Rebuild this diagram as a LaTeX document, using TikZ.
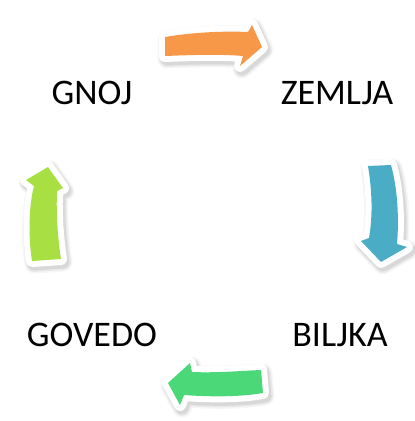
\documentclass[tikz,border=0pt]{standalone}
\usepackage{fontspec}
\setmainfont{Carlito}
\definecolor{arrOrange}{RGB}{247,152,72}
\definecolor{arrBlue}{RGB}{75,172,198}
\definecolor{arrGreen}{RGB}{74,216,120}
\definecolor{arrLime}{RGB}{168,224,68}
\newcommand{\cyclearrow}[2]{%
  \begin{scope}[shift={(2,3)}]
    \path[draw=black, fill=black, line width=19, line join=round, opacity=0.035] #2;
    \path[draw=black, fill=black, line width=16, line join=round, opacity=0.05] #2;
    \path[draw=black, fill=black, line width=13, line join=round, opacity=0.07] #2;
  \end{scope}
  \path[draw=white, line width=12, line join=round] #2;
  \path[fill=#1] #2;
}
\tikzset{lbl/.style={font=\fontsize{36}{40}\selectfont, text=black, inner sep=0pt}}
\begin{document}
\begin{tikzpicture}[x=1pt,y=-1pt]
\useasboundingbox (0,0) rectangle (415,421);
\fill[white] (0,0) rectangle (415,421);

% orange arrow (top, pointing right)
\cyclearrow{arrOrange}{(165,37) .. controls (195,32) and (225,31) .. (248,32) -- (252,25) -- (262,47) -- (240,66) -- (243,56) .. controls (220,54) and (190,55) .. (165,56) -- cycle}
% blue arrow (right, pointing down)
\cyclearrow{arrBlue}{(368,166) -- (391,165) .. controls (398,190) and (399,220) .. (397,244) -- (407,247) -- (381,262) -- (361,241) -- (369,238) .. controls (373,215) and (372,190) .. (368,166) -- cycle}
% green arrow (bottom, pointing left)
\cyclearrow{arrGreen}{(261,370) -- (263,393) .. controls (240,397) and (210,397) .. (184,395) -- (180,405) -- (168,383) -- (190,363) -- (192,372) .. controls (215,373) and (240,371) .. (261,370) -- cycle}
% lime arrow (left, pointing up)
\cyclearrow{arrLime}{(32,261) .. controls (28,235) and (29,205) .. (34,186) -- (26,180) -- (48,167) -- (63,188) -- (57,191) .. controls (56,215) and (58,240) .. (61,259) -- cycle}

\node[lbl] (gnoj) at (92,93) {GNOJ};
\node[lbl] (zemlja) at (337,93) {ZEMLJA};
\node[lbl] (govedo) at (92,335) {GOVEDO};
\node[lbl] (biljka) at (340,335) {BILJKA};
\end{tikzpicture}
\end{document}
